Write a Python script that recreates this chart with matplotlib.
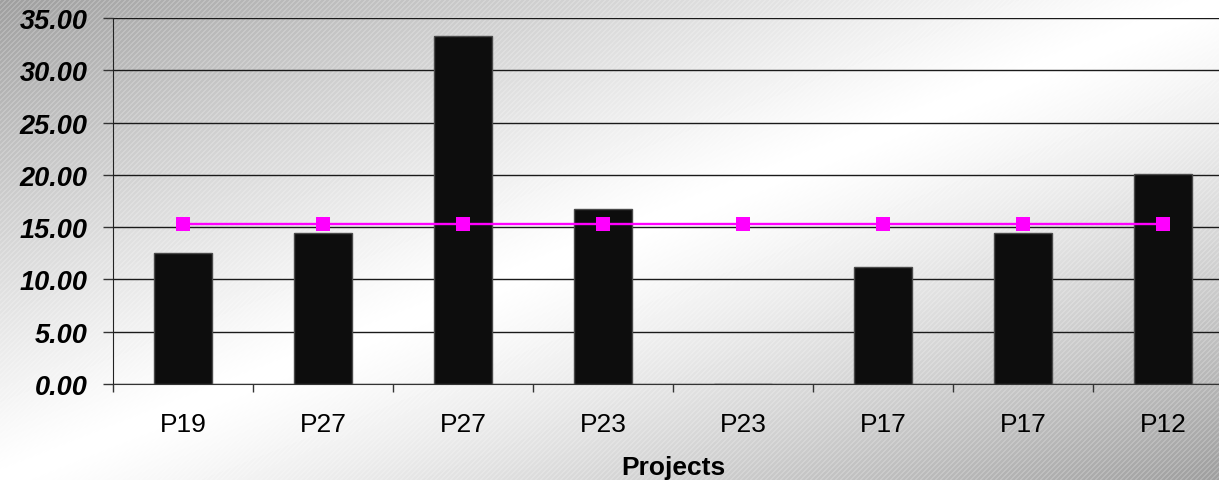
import numpy as np
import matplotlib
matplotlib.use("Agg")
import matplotlib.pyplot as plt

projects = ["P19", "P27", "P27", "P23", "P23", "P17", "P17", "P12"]
values = [12.5, 14.4, 33.3, 16.7, 0.0, 11.2, 14.4, 20.1]
average = [15.33, 15.33, 15.33, 15.33, 15.33, 15.33, 15.33, 15.33]

W, H = 1219, 481
fig = plt.figure(figsize=(W / 100, H / 100), dpi=100)

# diagonal gray-white-gray backdrop with faint light stripes
yy, xx = np.mgrid[0:H, 0:W]
s = xx / W + yy / H
shade = 1 - 0.38 * np.abs(s - 1) ** 1.2
stripes = (np.mod(xx + yy, 5) < 1.2).astype(float)
shade = shade + stripes * 0.07 * (1 - shade) / 0.38
shade = np.clip(shade, 0, 1)
bg = fig.add_axes([0, 0, 1, 1], zorder=-1)
bg.imshow(shade, cmap="gray", vmin=0, vmax=1, aspect="auto", interpolation="bilinear")
bg.axis("off")

ax = fig.add_axes([113 / W, 1 - 385 / H, 1120 / W, 366 / H])
ax.set_facecolor("none")

x = np.arange(len(projects))
ax.bar(x, values, width=0.41, color="#0d0d0d", edgecolor="#4a4a4a", linewidth=1, zorder=3)
ax.plot(x, average, color="#ff00ff", linewidth=1.7, marker="s", markersize=10,
        markeredgewidth=0, zorder=4)

ax.set_xlim(-0.5, len(projects) - 0.5)
ax.set_ylim(0, 35)
ax.set_yticks(np.arange(0, 36, 5))
ax.set_yticklabels([f"{v:.2f}" for v in np.arange(0, 36, 5)],
                   fontfamily="Liberation Sans", fontsize=19.5, fontweight="bold",
                   fontstyle="italic")
ax.grid(axis="y", color="#1a1a1a", linewidth=1, zorder=1)
ax.tick_params(axis="y", length=7.5, width=1, color="#333", pad=11)

ax.set_xticks(x)
ax.set_xticklabels(projects, fontfamily="Liberation Sans", fontsize=19)
ax.set_xticks(np.arange(-0.5, len(projects)), minor=True)
ax.tick_params(axis="x", which="major", length=0, pad=20)
ax.tick_params(axis="x", which="minor", length=6, width=1, color="#333")

ax.set_xlabel("Projects", fontfamily="Liberation Sans", fontsize=19,
              fontweight="bold", labelpad=14)

for side in ["top", "right"]:
    ax.spines[side].set_visible(False)
ax.spines["left"].set_color("#222")
ax.spines["bottom"].set_color("#333")

fig.savefig("out.png", dpi=100)
